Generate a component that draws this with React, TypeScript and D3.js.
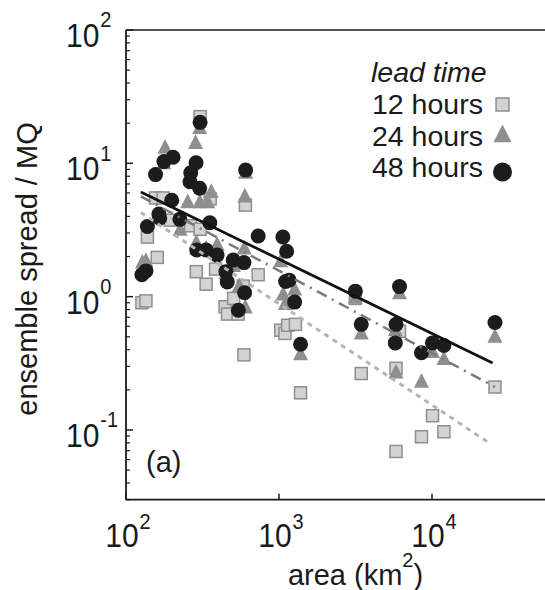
import React from "react";
import * as d3 from "d3";

// ---- data ----
const area12 = [127, 135, 138, 160, 156, 175, 195, 264, 305, 305, 288, 334, 355, 385, 444, 461, 505, 540, 584, 603, 590, 731, 1026, 1094, 1140, 1280, 1383, 3155, 3449, 5819, 6134, 5819, 8535, 10080, 11960, 25800];
const spread12 = [0.9, 0.93, 2.8, 1.97, 5.5, 5.5, 3.75, 3.4, 22.4, 3.2, 1.54, 1.24, 5.4, 1.61, 0.84, 0.74, 0.97, 0.74, 1.2, 4.86, 0.366, 1.46, 0.56, 0.53, 0.61, 0.62, 0.19, 0.97, 0.265, 0.29, 0.55, 0.069, 0.089, 0.128, 0.097, 0.21];

const area24 = [128, 135, 180, 285, 303, 253, 304, 342, 361, 598, 226, 288, 394, 593, 550, 602, 1026, 1065, 1265, 1100, 1383, 3449, 5819, 6134, 8535, 10080, 11960, 25800, 5758, 3155, 505, 177, 166, 290, 334, 450, 605];
const spread24 = [1.8, 1.85, 13.1, 14.2, 18.4, 5.1, 5.1, 5.1, 6.1, 5.65, 3.18, 2.54, 2.45, 2.3, 1.2, 0.83, 1.84, 1.04, 1.13, 0.88, 0.37, 0.53, 0.27, 1.06, 0.23, 0.385, 0.34, 0.5, 0.56, 0.98, 1.7, 10, 4, 2.3, 2.3, 1.5, 8.5];

const area48 = [127, 135, 138, 156, 164, 166, 177, 203, 199, 225, 265, 262, 287, 303, 305, 290, 334, 353, 394, 450, 459, 502, 590, 596, 542, 605, 731, 1060, 1122, 1105, 1164, 1265, 1383, 3155, 3449, 5819, 5758, 6134, 8535, 10080, 11960, 25800];
const spread48 = [1.46, 1.56, 3.36, 8.23, 4.16, 3.87, 10.3, 11.1, 5.29, 3.8, 8.5, 7.27, 10.1, 6.51, 20.3, 2.24, 2.24, 3.58, 2.05, 1.54, 1.29, 1.88, 1.8, 1.07, 0.79, 8.9, 2.85, 2.8, 2.19, 1.3, 1.33, 0.91, 0.44, 1.1, 0.62, 0.62, 0.45, 1.19, 0.38, 0.45, 0.43, 0.64];

const fitArea12 = [125, 23300];
const fitSpread12 = [4.27, 0.081];
const fitArea24 = [125, 25800];
const fitSpread24 = [5.65, 0.21];
const fitArea48 = [125, 24900];
const fitSpread48 = [6.1, 0.318];

const xTickExps = [2, 3, 4];
const yTickExps = [2, 1, 0, -1];
const legendLabels = ["12 hours", "24 hours", "48 hours"];

const FONT = "'Liberation Sans', Arial, Helvetica, sans-serif";
const INK = "#1a1a1a";

export default function App() {
  const W = 545, H = 590;
  const x = d3.scaleLog().domain([100, 1e5]).range([126, 585]);
  const y = d3.scaleLog().domain([0.03, 100]).range([499.7, 30]);
  const [x0, x1] = x.range();
  const [yb, yt] = y.range();

  const line = d3
    .line<[number, number]>()
    .x((d) => x(d[0]))
    .y((d) => y(d[1]));

  const pts = (a: number[], s: number[]) => a.map((v, i) => [v, s[i]] as [number, number]);

  const yMinor: number[] = [];
  for (let e = -2; e < 2; e++) {
    for (let m = 2; m <= 9; m++) {
      const v = m * Math.pow(10, e);
      if (v >= 0.03 && v <= 100) yMinor.push(v);
    }
  }

  const tri = (s: number) => `M0,${-s * 0.58}L${s / 2},${s * 0.4}L${-s / 2},${s * 0.4}Z`;

  return (
    <svg
      width={W}
      height={H}
      style={{ position: "absolute", left: 0, top: 0, background: "#fff" }}
      fontFamily={FONT}
    >
      <rect width={W} height={H} fill="#fff" />

      {/* 12 h squares */}
      {pts(area12, spread12).map((d, i) => (
        <rect
          key={"s" + i}
          x={x(d[0]) - 6}
          y={y(d[1]) - 6}
          width={12}
          height={12}
          fill="#d3d3d3"
          stroke="#8e8e8e"
          strokeWidth={1.5}
        />
      ))}
      {/* 24 h triangles */}
      {pts(area24, spread24).map((d, i) => (
        <path key={"t" + i} d={tri(15)} transform={`translate(${x(d[0])},${y(d[1])})`} fill="#8f8f8f" />
      ))}
      {/* 48 h circles */}
      {pts(area48, spread48).map((d, i) => (
        <circle key={"c" + i} cx={x(d[0])} cy={y(d[1])} r={7.5} fill="#1c1c1c" />
      ))}

      {/* regression lines */}
      <path d={line(pts(fitArea12, fitSpread12)) || ""} fill="none" stroke="#b4b4b4" strokeWidth={3} strokeDasharray="5 5" />
      <path d={line(pts(fitArea24, fitSpread24)) || ""} fill="none" stroke="#7a7a7a" strokeWidth={2.5} strokeDasharray="11 6 2 6" />
      <path d={line(pts(fitArea48, fitSpread48)) || ""} fill="none" stroke="#111" strokeWidth={2.8} />

      {/* axes frame */}
      <line x1={x0} x2={x0} y1={yt} y2={yb} stroke={INK} strokeWidth={1.8} />
      <line x1={x0} x2={x1} y1={yb} y2={yb} stroke={INK} strokeWidth={1.8} />
      <line x1={x0} x2={x1} y1={yt} y2={yt} stroke={INK} strokeWidth={1.5} />
      <line x1={x1} x2={x1} y1={yt} y2={yb} stroke={INK} strokeWidth={1.5} />

      {/* y ticks */}
      {yTickExps.map((e) => (
        <line key={"ym" + e} x1={x0} x2={x0 + 7} y1={y(Math.pow(10, e))} y2={y(Math.pow(10, e))} stroke={INK} strokeWidth={1.5} />
      ))}
      {yMinor.map((v, i) => (
        <line key={"yn" + i} x1={x0} x2={x0 + 4} y1={y(v)} y2={y(v)} stroke={INK} strokeWidth={1.2} />
      ))}
      {/* x ticks */}
      {xTickExps.map((e) => (
        <line key={"xm" + e} x1={x(Math.pow(10, e))} x2={x(Math.pow(10, e))} y1={yb} y2={yb - 6} stroke={INK} strokeWidth={1.5} />
      ))}

      {/* y tick labels */}
      {yTickExps.map((e) => (
        <text key={"yl" + e} transform={`translate(66,${y(Math.pow(10, e)) + 17}) scale(1,1.1)`} fontSize={30} fill={INK}>
          <tspan>10</tspan>
          <tspan dx={1} dy={-18} fontSize={20}>{String(e)}</tspan>
        </text>
      ))}
      {/* x tick labels */}
      {xTickExps.map((e) => (
        <text key={"xl" + e} transform={`translate(${x(Math.pow(10, e)) + 2},547) scale(1,1.1)`} fontSize={30} fill={INK} textAnchor="middle">
          <tspan>10</tspan>
          <tspan dx={1} dy={-16} fontSize={20}>{String(e)}</tspan>
        </text>
      ))}

      {/* axis titles */}
      <text transform="translate(37,269) rotate(-90)" textAnchor="middle" fontSize={29} fill={INK}>
        ensemble spread / MQ
      </text>
      <text x={355.5} y={585} textAnchor="middle" fontSize={29} fill={INK}>
        <tspan>area (km</tspan>
        <tspan dy={-18} fontSize={20}>2</tspan>
        <tspan dy={18}>)</tspan>
      </text>

      {/* panel label */}
      <text x={146} y={472} fontSize={29} fill={INK}>(a)</text>

      {/* legend */}
      <text x={371} y={82} fontSize={28.5} fontStyle="italic" fill={INK}>lead time</text>
      {legendLabels.map((t, i) => (
        <text key={"lg" + i} x={372} y={114 + i * 31.5} fontSize={28.5} fill={INK}>{t}</text>
      ))}
      <rect x={496} y={98} width={13} height={13} fill="#d3d3d3" stroke="#8e8e8e" strokeWidth={1.5} />
      <path d={tri(18)} transform="translate(502.5,135)" fill="#8f8f8f" />
      <circle cx={502.5} cy={172} r={9.5} fill="#1c1c1c" />
    </svg>
  );
}
